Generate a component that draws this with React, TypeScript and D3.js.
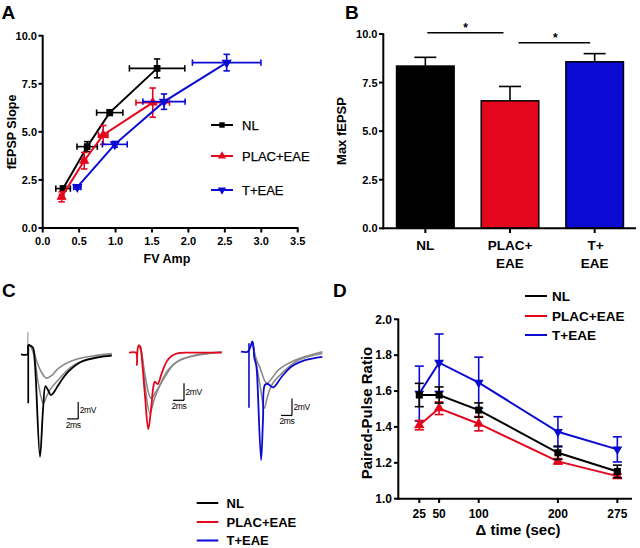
import React from "react";
import * as d3 from "d3";

const FONT = "'Liberation Sans', Arial, Helvetica, sans-serif";
const BLACK = "#000000";
const RED = "#e3061d";
const BLUE = "#0a0ad2";
const GRAY = "#8a8a8a";

// ---------- Panel A data ----------
const aXTicks = [0, 0.5, 1, 1.5, 2, 2.5, 3, 3.5];
const aYTicks = [0, 2.5, 5, 7.5, 10];
const aNLx = [0.28, 0.61, 0.92, 1.57];
const aNLxe = [0.1, 0.14, 0.18, 0.38];
const aNLy = [2.05, 4.23, 6.0, 8.3];
const aNLye = [0.12, 0.26, 0.15, 0.49];
const aPLx = [0.26, 0.57, 0.83, 1.51];
const aPLxe = [0.03, 0.03, 0.065, 0.23];
const aPLy = [1.62, 3.5, 4.84, 6.52];
const aPLye = [0.26, 0.43, 0.49, 0.76];
const aTx = [0.475, 0.99, 1.665, 2.525];
const aTxe = [0.05, 0.17, 0.29, 0.47];
const aTy = [2.13, 4.35, 6.57, 8.6];
const aTye = [0.1, 0.15, 0.4, 0.43];

// ---------- Panel B data ----------
const bCats = ["NL", "PLAC+EAE", "T+EAE"];
const bLabels = [["NL"], ["PLAC+", "EAE"], ["T+", "EAE"]];
const bVals = [8.35, 6.56, 8.57];
const bErr = [0.45, 0.74, 0.42];
const bYTicks = [0, 2.5, 5, 7.5, 10];

// ---------- Panel D data ----------
const dX = [25, 50, 100, 200, 275];
const dNL = [1.578, 1.578, 1.494, 1.256, 1.152];
const dNLe = [0.065, 0.045, 0.04, 0.037, 0.035];
const dPL = [1.41, 1.504, 1.418, 1.208, 1.126];
const dPLe = [0.026, 0.035, 0.04, 0.015, 0.012];
const dT = [1.586, 1.758, 1.647, 1.373, 1.275];
const dTe = [0.153, 0.16, 0.142, 0.084, 0.07];
const dYTicks = [1.0, 1.2, 1.4, 1.6, 1.8, 2.0];

const legendNames = ["NL", "PLAC+EAE", "T+EAE"];

// ---------- Panel C traces (ms, mV) ----------
const c1Black = [[0, 0], [1.2, 0], [1.35, 1.1], [1.8, 1.0], [2.2, 0.75], [2.55, -1.25], [3.45, -12.05], [4.0, -6.55], [4.45, -3.75], [4.9, -4.2], [5.45, -4.8], [6.0, -4.45], [6.8, -3.6], [8.6, -2.05], [11.05, -0.85], [14.05, -0.35], [16.5, -0.15]];
const c1Gray1 = [[1.35, 1.1], [1.8, 0.85], [2.35, 0.25], [2.9, -0.9], [3.8, -2.2], [4.65, -2.8], [5.65, -2.45], [6.8, -1.65], [9.8, -0.65], [14.05, -0.1], [16.5, 0.1]];
const c1Gray2 = [[1.35, 1.1], [1.8, 0.85], [2.35, -0.1], [3.2, -3.6], [4.05, -5.75], [4.7, -4.9], [5.25, -4.2], [6.8, -3.0], [9.2, -1.45], [12.85, -0.45], [16.5, 0]];
const c2Red = [[0, 0], [1.27, 0], [1.45, -1.45], [1.55, 0.3], [1.8, 0.9], [2.1, 0.65], [2.25, -0.05], [2.9, -5.0], [3.5, -9.0], [4.0, -6.7], [4.4, -4.15], [4.7, -3.4], [5.2, -3.7], [5.95, -2.4], [6.85, -1.05], [7.75, -0.4], [8.95, -0.05], [11.4, 0], [16.85, 0]];
const c2Gray1 = [[1.8, 0.9], [2.25, 0.1], [2.9, -2.6], [4.0, -5.35], [4.9, -4.6], [6.55, -2.8], [8.35, -1.25], [11.4, -0.4], [16.85, 0.1]];
const c2Gray2 = [[1.8, 0.9], [2.25, 0.1], [2.9, -3.8], [3.8, -7.15], [4.55, -5.55], [5.65, -3.8], [7.1, -2.05], [9.25, -0.85], [12.9, -0.25], [16.85, 0.05]];
const c3Blue = [[0, 0], [1.2, 0], [1.65, 0.45], [2.05, 1.2], [2.3, 0.45], [2.4, -0.6], [2.75, -1.55], [2.9, -2.4], [3.65, -12.75], [4.0, -8.05], [4.35, -3.9], [4.9, -3.8], [5.85, -4.2], [7.4, -2.95], [9.2, -1.75], [11.65, -1.0], [14.8, -0.6]];
const c3Gray1 = [[2.05, 1.2], [2.55, -0.4], [3.45, -1.9], [4.65, -3.7], [5.65, -3.1], [6.8, -2.15], [9.8, -1.0], [14.8, 0]];
const c3Gray2 = [[2.05, 1.2], [2.55, -0.5], [3.45, -3.9], [4.25, -6.65], [4.75, -5.45], [5.6, -3.9], [7.4, -2.55], [10.4, -1.0], [14.8, -0.2]];
// artifacts: [t, vTop, vBottom]
const c1Artifacts = [[1.25, 2.6, -5.75, "gray"], [1.33, 1.1, -5.75, "main"]];
const c3Artifacts = [[1.45, 1.0, -6.6, "main"]];

const sym = (type: any, size: number) => d3.symbol().type(type).size(size)() as string;

function ErrXY({ xs, ys, x, y, xe, ye, color, cap = 3 }: any) {
  const out: any[] = [];
  x.forEach((xv: number, i: number) => {
    const cx = xs(xv), cy = ys(y[i]);
    const x1 = xs(xv - xe[i]), x2 = xs(xv + xe[i]);
    const y1 = ys(y[i] - ye[i]), y2 = ys(y[i] + ye[i]);
    out.push(
      <g key={i} stroke={color} strokeWidth={1.6} fill="none">
        <line x1={x1} x2={x2} y1={cy} y2={cy} />
        <line x1={x1} x2={x1} y1={cy - cap} y2={cy + cap} />
        <line x1={x2} x2={x2} y1={cy - cap} y2={cy + cap} />
        <line x1={cx} x2={cx} y1={y1} y2={y2} />
        <line x1={cx - cap} x2={cx + cap} y1={y1} y2={y1} />
        <line x1={cx - cap} x2={cx + cap} y1={y2} y2={y2} />
      </g>
    );
  });
  return <g>{out}</g>;
}

function PanelA() {
  const xs = d3.scaleLinear().domain([0, 3.5]).range([42.7, 297.7]);
  const ys = d3.scaleLinear().domain([0, 10]).range([228, 35.7]);
  const series = [
    { x: aNLx, xe: aNLxe, y: aNLy, ye: aNLye, c: BLACK, s: sym(d3.symbolSquare, 46), rot: 0 },
    { x: aPLx, xe: aPLxe, y: aPLy, ye: aPLye, c: RED, s: sym(d3.symbolTriangle, 46), rot: 0 },
    { x: aTx, xe: aTxe, y: aTy, ye: aTye, c: BLUE, s: sym(d3.symbolTriangle, 46), rot: 180 },
  ];
  return (
    <g fontFamily={FONT} fontWeight="bold">
      <text x={1.5} y={18.5} fontSize={19}>A</text>
      {series.map((s, k) => {
        const pts = s.x.map((v, i) => [xs(v), ys(s.y[i])] as [number, number]);
        return (
          <g key={k}>
            <path d={d3.line()(pts) as string} fill="none" stroke={s.c} strokeWidth={2} />
            <ErrXY xs={xs} ys={ys} x={s.x} y={s.y} xe={s.xe} ye={s.ye} color={s.c} cap={3.2} />
            {pts.map((p, i) => (
              <path key={i} d={s.s} fill={s.c} transform={`translate(${p[0]},${p[1]}) rotate(${s.rot})`} />
            ))}
          </g>
        );
      })}
      {/* axes */}
      <line x1={42.7} x2={42.7} y1={35} y2={229} stroke={BLACK} strokeWidth={2} />
      <line x1={41.7} x2={298.5} y1={228} y2={228} stroke={BLACK} strokeWidth={2} />
      {aYTicks.map((t) => (
        <g key={t}>
          <line x1={38.5} x2={42.7} y1={ys(t)} y2={ys(t)} stroke={BLACK} strokeWidth={2} />
          <text x={37} y={ys(t) + 4} fontSize={11} textAnchor="end">{t.toFixed(1)}</text>
        </g>
      ))}
      {aXTicks.map((t) => (
        <g key={t}>
          <line x1={xs(t)} x2={xs(t)} y1={228} y2={232.5} stroke={BLACK} strokeWidth={2} />
          <text x={xs(t)} y={245} fontSize={11} textAnchor="middle">{t.toFixed(1)}</text>
        </g>
      ))}
      <text transform="translate(16,132) rotate(-90)" fontSize={12.5} textAnchor="middle">fEPSP Slope</text>
      <text x={167} y={263} fontSize={12.5} textAnchor="middle">FV Amp</text>
      {/* legend */}
      {series.map((s, k) => {
        const ly = [125, 156, 190][k];
        return (
          <g key={k}>
            <line x1={211} x2={233} y1={ly} y2={ly} stroke={s.c} strokeWidth={2} />
            <path d={s.s} fill={s.c} transform={`translate(222,${ly}) rotate(${s.rot}) scale(0.8)`} />
            <text x={242} y={ly + 4.8} fontSize={13} fontWeight="normal" stroke="#000" strokeWidth={0.25}>{legendNames[k]}</text>
          </g>
        );
      })}
    </g>
  );
}

function PanelB() {
  const xs = d3.scaleBand().domain(bCats).range([383, 637]).paddingInner(0.32).paddingOuter(0.16);
  const ys = d3.scaleLinear().domain([0, 10]).range([228.3, 34]);
  const colors = [BLACK, RED, BLUE];
  const bw = xs.bandwidth();
  const cx = (c: string) => (xs(c) as number) + bw / 2;
  return (
    <g fontFamily={FONT} fontWeight="bold">
      <text x={345} y={18.5} fontSize={19}>B</text>
      {bCats.map((c, i) => (
        <g key={c}>
          <line x1={cx(c)} x2={cx(c)} y1={ys(bVals[i])} y2={ys(bVals[i] + bErr[i])} stroke={BLACK} strokeWidth={1.6} />
          <line x1={cx(c) - 11} x2={cx(c) + 11} y1={ys(bVals[i] + bErr[i])} y2={ys(bVals[i] + bErr[i])} stroke={BLACK} strokeWidth={1.6} />
          <rect x={xs(c)} y={ys(bVals[i])} width={bw} height={ys(0) - ys(bVals[i])} fill={colors[i]} stroke={BLACK} strokeWidth={1.5} />
        </g>
      ))}
      <line x1={383.3} x2={383.3} y1={33.3} y2={229.3} stroke={BLACK} strokeWidth={2} />
      <line x1={382.3} x2={636} y1={228.3} y2={228.3} stroke={BLACK} strokeWidth={2} />
      {bYTicks.map((t) => (
        <g key={t}>
          <line x1={379} x2={383.3} y1={ys(t)} y2={ys(t)} stroke={BLACK} strokeWidth={2} />
          <text x={377.5} y={ys(t) + 4} fontSize={11} textAnchor="end">{t.toFixed(1)}</text>
        </g>
      ))}
      {bCats.map((c, i) => (
        <g key={c}>
          <line x1={cx(c)} x2={cx(c)} y1={228.3} y2={233} stroke={BLACK} strokeWidth={2} />
          {bLabels[i].map((l, j) => (
            <text key={j} x={cx(c) + (i === 2 && j === 0 ? 1 : 0)} y={249.5 + j * 18} fontSize={13.5} textAnchor="middle">{l}</text>
          ))}
        </g>
      ))}
      {/* significance */}
      <line x1={cx("NL") + 2} x2={cx("PLAC+EAE") - 6.5} y1={32.7} y2={32.7} stroke={BLACK} strokeWidth={1.5} />
      <text x={(cx("NL") + cx("PLAC+EAE")) / 2 - 2} y={32} fontSize={12} textAnchor="middle">*</text>
      <line x1={cx("PLAC+EAE") + 8.5} x2={cx("T+EAE") - 4.5} y1={42.7} y2={42.7} stroke={BLACK} strokeWidth={1.5} />
      <text x={(cx("PLAC+EAE") + cx("T+EAE")) / 2 + 3} y={42} fontSize={12} textAnchor="middle">*</text>
      <text transform="translate(346,131) rotate(-90)" fontSize={13} textAnchor="middle">Max fEPSP</text>
    </g>
  );
}

function TraceSet({ x0, y0, traces, grays, color, artifacts, bar }: any) {
  const xs = d3.scaleLinear().domain([0, 17]).range([x0, x0 + 17 * 5.5]);
  const ys = d3.scaleLinear().domain([-13, 3]).range([y0 + 13 * 8.5, y0 - 3 * 8.5]);
  const line = d3.line<number[]>().x((d) => xs(d[0])).y((d) => ys(d[1])).curve(d3.curveCatmullRom.alpha(0.5));
  const [bt, bv] = bar;
  return (
    <g>
      {(artifacts || []).map((a: any, i: number) => (
        <line key={i} x1={xs(a[0])} x2={xs(a[0])} y1={ys(a[1])} y2={ys(a[2])} stroke={a[3] === "gray" ? GRAY : color} strokeWidth={a[3] === "gray" ? 1 : 1.6} />
      ))}
      {grays.map((g: any, i: number) => (
        <path key={i} d={line(g) as string} fill="none" stroke={GRAY} strokeWidth={1.6} />
      ))}
      <path d={line(traces) as string} fill="none" stroke={color} strokeWidth={1.8} />
      <g stroke={BLACK} strokeWidth={1.2} fill="none">
        <line x1={xs(bt - 2)} x2={xs(bt)} y1={ys(bv)} y2={ys(bv)} />
        <line x1={xs(bt)} x2={xs(bt)} y1={ys(bv)} y2={ys(bv + 2)} />
      </g>
      <text x={xs(bt) + 1.5} y={ys(bv + 1) + 3} fontSize={8.5} fontFamily={FONT} letterSpacing={-0.4}>2mV</text>
      <text x={xs(bt - 2) - 1.5} y={ys(bv) + 9} fontSize={8.5} fontFamily={FONT} letterSpacing={-0.4}>2ms</text>
    </g>
  );
}

function PanelC() {
  const colors = [BLACK, RED, BLUE];
  return (
    <g>
      <text x={2} y={297} fontSize={19} fontFamily={FONT} fontWeight="bold">C</text>
      <TraceSet x0={21} y0={354.3} traces={c1Black} grays={[c1Gray1, c1Gray2]} color={BLACK} artifacts={c1Artifacts} bar={[10.4, -7.6]} />
      <TraceSet x0={129} y0={352.7} traces={c2Red} grays={[c2Gray1, c2Gray2]} color={RED} artifacts={[]} bar={[10.0, -5.6]} />
      <TraceSet x0={241} y0={351.7} traces={c3Blue} grays={[c3Gray1, c3Gray2]} color={BLUE} artifacts={c3Artifacts} bar={[9.27, -7.5]} />
      {legendNames.map((n, k) => {
        const ly = [503, 522, 540.5][k];
        return (
          <g key={n}>
            <line x1={196.7} x2={218.3} y1={ly} y2={ly} stroke={colors[k]} strokeWidth={2} />
            <text x={226.5} y={ly + 4.5} fontSize={13} fontFamily={FONT} fontWeight="bold">{n}</text>
          </g>
        );
      })}
    </g>
  );
}

function PanelD() {
  const xs = d3.scaleLinear().domain([-1.5, 293.5]).range([398.3, 632]);
  const ys = d3.scaleLinear().domain([1, 2]).range([498.7, 319.3]);
  const series = [
    { y: dT, e: dTe, c: BLUE, s: sym(d3.symbolTriangle, 42), rot: 180 },
    { y: dPL, e: dPLe, c: RED, s: sym(d3.symbolTriangle, 48), rot: 0 },
    { y: dNL, e: dNLe, c: BLACK, s: sym(d3.symbolSquare, 50), rot: 0 },
  ];
  const colors = [BLACK, RED, BLUE];
  return (
    <g fontFamily={FONT} fontWeight="bold">
      <text x={333} y={297} fontSize={19}>D</text>
      {series.map((s, k) => {
        const pts = dX.map((x, i) => [xs(x), ys(s.y[i])] as [number, number]);
        return (
          <g key={k}>
            <path d={d3.line()(pts) as string} fill="none" stroke={s.c} strokeWidth={2} />
            {dX.map((x, i) => {
              const px = xs(x);
              const y1 = ys(s.y[i] - s.e[i]), y2 = ys(s.y[i] + s.e[i]);
              return (
                <g key={i} stroke={s.c} strokeWidth={1.6}>
                  <line x1={px} x2={px} y1={y1} y2={y2} />
                  <line x1={px - 4.5} x2={px + 4.5} y1={y1} y2={y1} />
                  <line x1={px - 4.5} x2={px + 4.5} y1={y2} y2={y2} />
                </g>
              );
            })}
            {pts.map((p, i) => (
              <path key={i} d={s.s} fill={s.c} transform={`translate(${p[0]},${p[1]}) rotate(${s.rot})`} />
            ))}
          </g>
        );
      })}
      <line x1={398.3} x2={398.3} y1={318.5} y2={499.7} stroke={BLACK} strokeWidth={2} />
      <line x1={397.3} x2={632} y1={498.7} y2={498.7} stroke={BLACK} strokeWidth={2} />
      {dYTicks.map((t) => (
        <g key={t}>
          <line x1={394} x2={398.3} y1={ys(t)} y2={ys(t)} stroke={BLACK} strokeWidth={2} />
          <text x={392} y={ys(t) + 4.2} fontSize={12} textAnchor="end">{t.toFixed(1)}</text>
        </g>
      ))}
      {dX.map((t) => (
        <g key={t}>
          <line x1={xs(t)} x2={xs(t)} y1={498.7} y2={503} stroke={BLACK} strokeWidth={2} />
          <text x={xs(t)} y={518} fontSize={12} textAnchor="middle">{t}</text>
        </g>
      ))}
      <text transform="translate(372,413) rotate(-90)" fontSize={15} textAnchor="middle">Paired-Pulse Ratio</text>
      <text x={518} y={535} fontSize={15} textAnchor="middle">{"\u0394 time (sec)"}</text>
      {legendNames.map((n, k) => {
        const ly = [296, 316, 335][k];
        return (
          <g key={n}>
            <line x1={525} x2={547} y1={ly} y2={ly} stroke={colors[k]} strokeWidth={2} />
            <text x={552} y={ly + 5} fontSize={13.5}>{n}</text>
          </g>
        );
      })}
    </g>
  );
}

export default function App() {
  return (
    <svg width={640} height={548} style={{ position: "absolute", left: 0, top: 0, background: "#fff" }}>
      <rect width={640} height={548} fill="#fff" />
      <PanelA />
      <PanelB />
      <PanelC />
      <PanelD />
    </svg>
  );
}
